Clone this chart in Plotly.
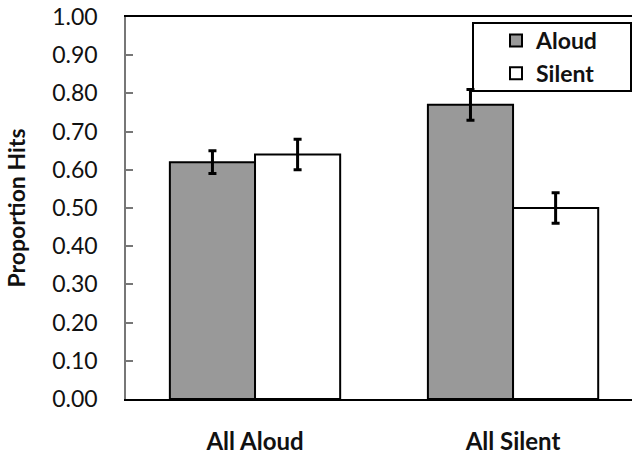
import plotly.graph_objects as go

# Recognition hit rates by study condition
conditions = ["All Aloud", "All Silent"]
aloud_hits = [0.62, 0.77]
aloud_err = [0.03, 0.04]
silent_hits = [0.64, 0.50]
silent_err = [0.04, 0.04]
y_ticks = [0.0, 0.1, 0.2, 0.3, 0.4, 0.5, 0.6, 0.7, 0.8, 0.9, 1.0]

FONT = "Lato"

fig = go.Figure()
fig.add_trace(go.Bar(
    name="Aloud", x=conditions, y=aloud_hits,
    marker=dict(color="#999999", line=dict(color="black", width=2)),
    error_y=dict(type="data", array=aloud_err, color="black", thickness=3, width=4),
))
fig.add_trace(go.Bar(
    name="Silent", x=conditions, y=silent_hits,
    marker=dict(color="white", line=dict(color="black", width=2)),
    error_y=dict(type="data", array=silent_err, color="black", thickness=3, width=4),
))

# Legend frame
fig.add_shape(type="rect", xref="paper", yref="paper",
              x0=(473 - 126) / 506, x1=(631 - 126) / 506,
              y0=1 - (91 - 17) / 382, y1=1 - (23 - 17) / 382,
              line=dict(color="black", width=2), fillcolor="rgba(0,0,0,0)")

fig.update_layout(
    width=632, height=454,
    margin=dict(l=126, r=0, t=17, b=55),
    paper_bgcolor="white", plot_bgcolor="white",
    barmode="group", bargap=0.34, bargroupgap=0,
    font=dict(family=FONT, color="#111111"),
    showlegend=True,
    legend=dict(x=(496 - 126) / 506, y=1 - (19 - 17) / 382, xanchor="left", yanchor="top",
                bgcolor="rgba(0,0,0,0)", borderwidth=0,
                font=dict(family=FONT, size=23, color="#111111", weight="bold"),
                tracegroupgap=0),
    xaxis=dict(range=[-0.5, 1.461], showline=True, linecolor="black", linewidth=2,
               mirror=True, ticks="", showgrid=False, zeroline=False,
               tickfont=dict(family=FONT, size=24, weight="bold"),
               ticklabelstandoff=20),
    yaxis=dict(range=[0, 1], tickvals=y_ticks, tickformat=".2f",
               showline=True, linecolor="#777777", linewidth=1.5,
               ticks="inside", ticklen=7, tickcolor="#777777", tickwidth=1.5,
               showgrid=False, zeroline=False,
               tickfont=dict(family=FONT, size=23),
               ticklabelstandoff=22,
               title=dict(text="Proportion Hits", standoff=20,
                          font=dict(family=FONT, size=23, weight="bold"))),
)

fig.write_html("out.html")
